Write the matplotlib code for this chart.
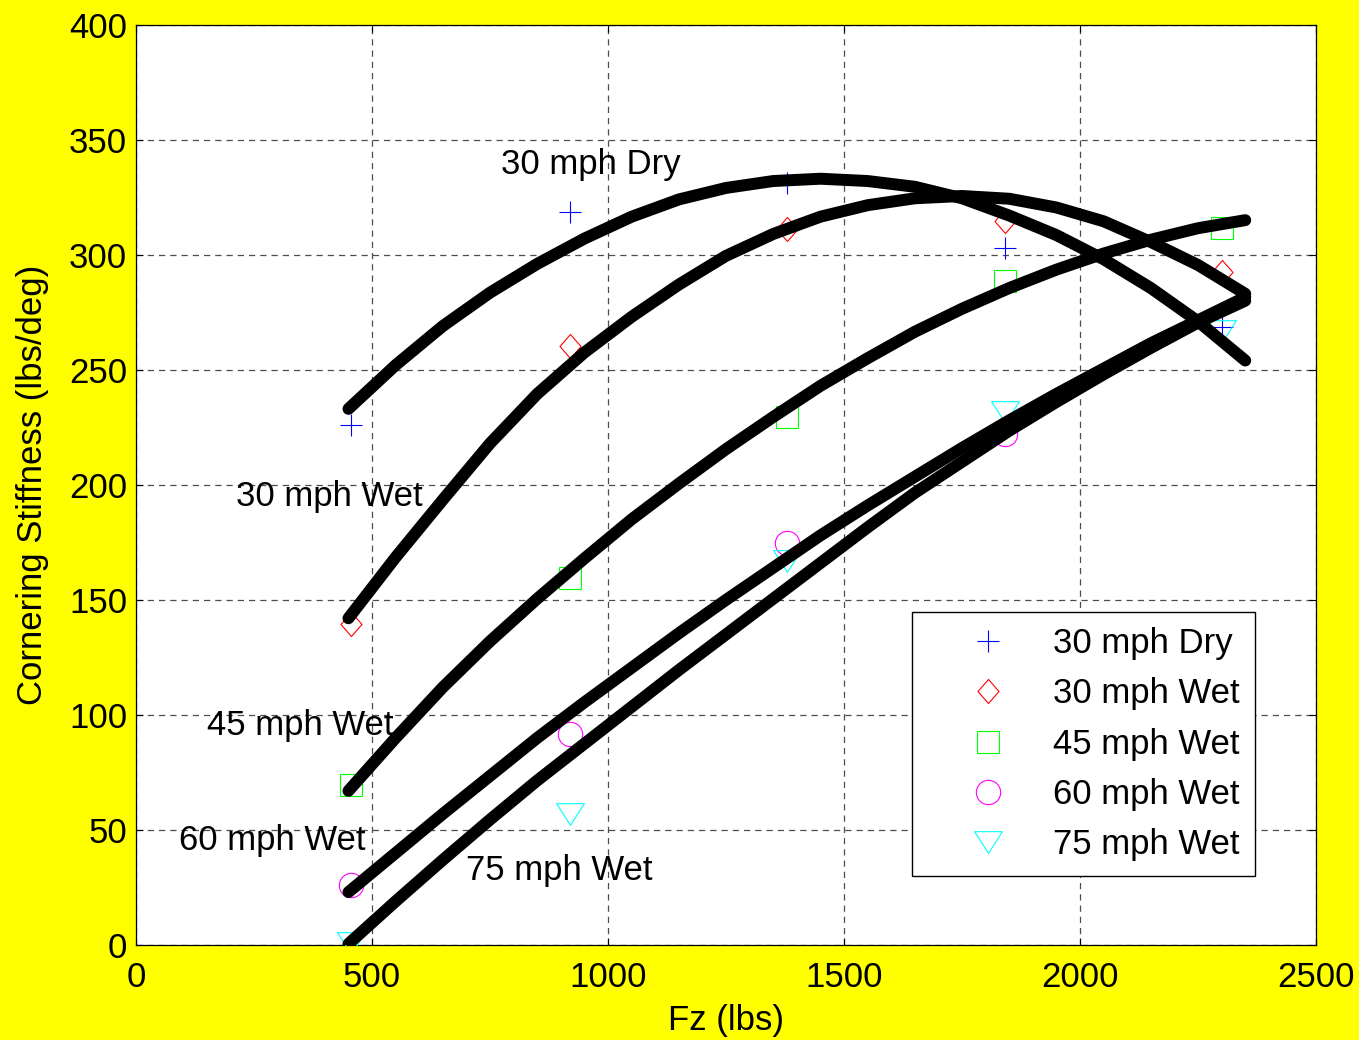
import numpy as np
import matplotlib.pyplot as plt
from matplotlib.path import Path

plt.rcParams['font.family'] = ['Liberation Sans', 'DejaVu Sans']

# measured cornering stiffness at each test load
fz_test = [455, 920, 1380, 1840, 2300]
dry30 = [226, 318.5, 331, 303, 268.5]
wet30 = [139.5, 260.5, 311, 314.5, 292.5]
wet45 = [69.5, 159.5, 229.5, 288.5, 311.5]
wet60 = [26, 91.5, 174.5, 222, np.nan]
wet75 = [1, 57, 167, 231.5, 267]

# fitted curves
fz_fit = [450, 550, 650, 750, 850, 950, 1050, 1150, 1250, 1350,
          1450, 1550, 1650, 1750, 1850, 1950, 2050, 2150, 2250, 2350]
fit_dry30 = [233, 252, 269, 283.5, 296, 307, 316.5, 324, 329, 332,
             333, 332, 329.5, 324.5, 317, 308.5, 298, 285.5, 271, 254]
fit_wet30 = [142, 168.5, 193.5, 218, 239.5, 257.5, 273, 287, 299.5, 309,
             316.5, 321.5, 324.5, 325.5, 324.3, 320.5, 314.5, 305.5, 295.5, 283]
fit_wet45 = [67, 90, 112, 132, 150.5, 168, 185, 200.5, 215.5, 229.5,
             243, 255, 266.5, 276.5, 285.5, 293.5, 300.5, 306.5, 311.5, 315]
fit_wet60 = [23, 40, 57, 73.5, 90, 105.5, 120.5, 135.5, 150, 164,
             178, 191, 203.5, 216, 228, 239.5, 250.5, 261.5, 271.5, 281.5]
fit_wet75 = [0.5, 19, 37, 54.5, 71.5, 87.5, 103.5, 119.5, 135, 150.5,
             166, 181.5, 196.5, 210, 223.5, 236, 248, 259.5, 270.5, 280]

labels = ['30 mph Dry', '30 mph Wet', '45 mph Wet', '60 mph Wet', '75 mph Wet']
tests = [dry30, wet30, wet45, wet60, wet75]
fits = [fit_dry30, fit_wet30, fit_wet45, fit_wet60, fit_wet75]

diamond = Path([(0, 1), (0.875, 0), (0, -1), (-0.875, 0), (0, 1)], closed=True)
tri_down = Path([(-1, 0.78), (1, 0.78), (0, -0.78), (-1, 0.78)], closed=True)
markers = ['+', diamond, 's', 'o', tri_down]
sizes = [16, 17.3, 16, 17.5, 20]
colors = ['#0000ff', '#ff0000', '#00ff00', '#ff00ff', '#00ffff']

fig = plt.figure(figsize=(13.59, 10.40), dpi=100, facecolor='#ffff00')
ax = fig.add_axes([0.1001, 0.0913, 0.8683, 0.8851])
ax.set_facecolor('white')

for vals, lab, mk, ms, col in zip(tests, labels, markers, sizes, colors):
    ax.plot(fz_test, vals, linestyle='none', marker=mk, markersize=ms,
            markerfacecolor='none', markeredgecolor=col, markeredgewidth=0.8,
            label=lab, zorder=3)

for curve in fits:
    ax.plot(fz_fit, curve, color='k', linewidth=8.6, solid_capstyle='round',
            solid_joinstyle='round', zorder=4)

ax.text(773, 335, '30 mph Dry', fontsize=25, va='baseline', zorder=5)
ax.text(212, 190.6, '30 mph Wet', fontsize=25, va='baseline', zorder=5)
ax.text(150, 91.2, '45 mph Wet', fontsize=25, va='baseline', zorder=5)
ax.text(92, 41.1, '60 mph Wet', fontsize=25, va='baseline', zorder=5)
ax.text(700, 28.4, '75 mph Wet', fontsize=25, va='baseline', zorder=5)

ax.set_xlim(0, 2500)
ax.set_ylim(0, 400)
ax.set_xticks([0, 500, 1000, 1500, 2000, 2500])
ax.set_yticks([0, 50, 100, 150, 200, 250, 300, 350, 400])
ax.grid(True, color='0.3', linestyle=(0, (5, 4)), linewidth=0.9)
ax.set_axisbelow(True)
ax.tick_params(direction='in', length=5, width=0.8, top=True, right=True,
               labelsize=25)
ax.tick_params(axis='y', pad=6.5)
ax.tick_params(axis='x', pad=11.8)
for sp in ax.spines.values():
    sp.set_linewidth(0.9)

ax.set_xlabel('Fz (lbs)', fontsize=25)
ax.xaxis.set_label_coords(0.5, -0.0645)
ax.set_ylabel('Cornering Stiffness (lbs/deg)', fontsize=25)
ax.yaxis.set_label_coords(-0.0734, 0.5)

leg = ax.legend(loc='upper left', bbox_to_anchor=(0.6576, 0.3618), fontsize=25,
                numpoints=1, handlelength=3.52, handletextpad=0.12,
                labelspacing=0.5, borderpad=0.43, borderaxespad=0,
                fancybox=False, framealpha=1, edgecolor='k')
leg.get_frame().set_linewidth(1.0)

fig.savefig('out.png', dpi=100, facecolor=fig.get_facecolor())
